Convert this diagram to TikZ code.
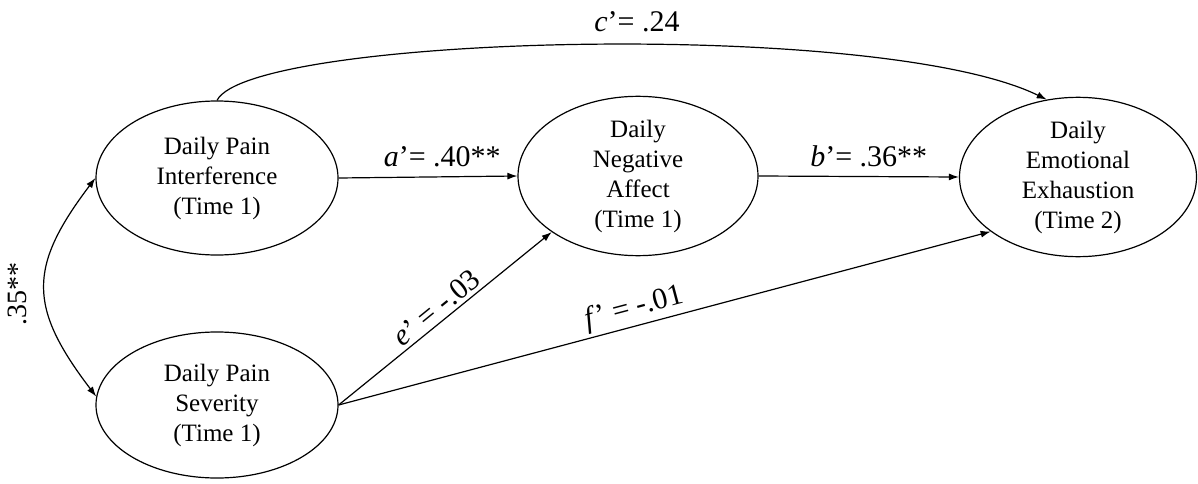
\documentclass[tikz,border=0pt]{standalone}
\usepackage{fontspec}
\setmainfont{Liberation Serif}
\usetikzlibrary{arrows.meta,shapes.geometric}
\begin{document}
\begin{tikzpicture}[x=1pt,y=-1pt,
  var/.style={draw, ellipse, line width=1.2pt, minimum width=242pt, minimum height=154pt,
    inner sep=0pt, align=center, font=\fontsize{25}{30}\selectfont},
  conn/.style={line width=1.2pt, -{Latex[length=10pt,width=7pt]}},
  biconn/.style={line width=1.2pt, {Latex[length=10pt,width=7pt]}-{Latex[length=10pt,width=7pt]}},
  lab/.style={font=\fontsize{30}{36}\selectfont, inner sep=2pt}]
\useasboundingbox (0,0) rectangle (1198,484);
\node[var] (int) at (217,178) {Daily Pain\\Interference\\(Time 1)};
\node[var, minimum width=240pt, minimum height=158pt] (neg) at (638,176) {Daily\\Negative\\Affect\\(Time 1)};
\node[var, minimum width=237pt] (exh) at (1078,177) {Daily\\Emotional\\Exhaustion\\(Time 2)};
\node[var, minimum height=146pt] (sev) at (217,405) {Daily Pain\\Severity\\(Time 1)};
\draw[conn] (int.east) -- (neg.west)
  node[lab, pos=0.58, anchor=base, yshift=10pt] (alab) {\textit{a}’= .40**};
\draw[conn] (neg.east) -- (exh.west)
  node[lab, pos=0.55, anchor=base, yshift=10pt] (blab) {\textit{b}’= .36**};
\draw[conn] (int.north) .. controls (250,35) and (880,18) .. (exh.112);
\node[lab, anchor=base] (clab) at (637,32) {\textit{c}’= .24};
\draw[conn] (sev.east) -- (neg.213)
  node[lab, pos=0.5, sloped, above, inner sep=3pt] (elab) {\textit{e}’ = -.03};
\draw[conn] (sev.east) -- (exh.212)
  node[lab, pos=0.46, sloped, above, inner sep=3pt] (flab) {\textit{f}’ = -.01};
\draw[biconn] (int.west) .. controls (28,267) and (28,307) .. (sev.176);
\node[lab, rotate=90, font=\fontsize{28}{34}\selectfont] (rlab) at (17,294) {.35**};
\end{tikzpicture}
\end{document}
